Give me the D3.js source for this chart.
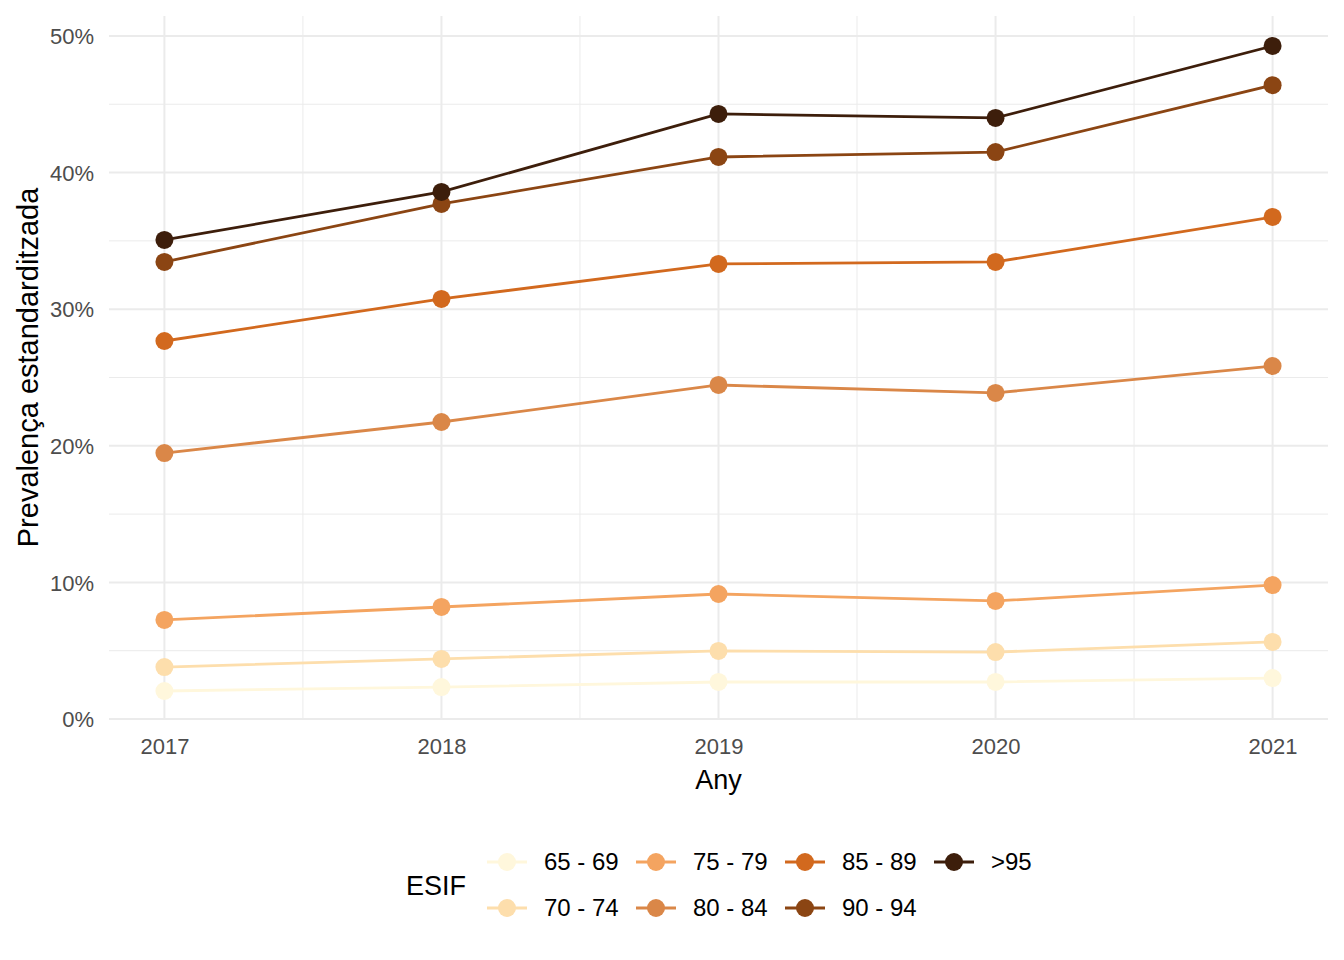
<!DOCTYPE html>
<html>
<head>
<meta charset="utf-8">
<script src="https://cdn.jsdelivr.net/npm/d3@7"></script>
<style>
  body { margin: 0; background: #fff; }
  svg { font-family: "Liberation Sans", Arial, sans-serif; }
</style>
</head>
<body>
<div id="root"></div>
<script>
const years = [2017, 2018, 2019, 2020, 2021];
const groups = ['65 - 69', '70 - 74', '75 - 79', '80 - 84', '85 - 89', '90 - 94', '>95'];
const colors = ['#FFF7DC', '#FDDEAC', '#F4A460', '#DA8748', '#D2691E', '#8B4513', '#3D1E0B'];
const values = {
  '65 - 69': [0.0205, 0.0234, 0.0271, 0.0271, 0.0300],
  '70 - 74': [0.0380, 0.0440, 0.0498, 0.0490, 0.0564],
  '75 - 79': [0.0725, 0.0820, 0.0915, 0.0864, 0.0980],
  '80 - 84': [0.1947, 0.2174, 0.2445, 0.2387, 0.2584],
  '85 - 89': [0.2767, 0.3075, 0.3331, 0.3346, 0.3675],
  '90 - 94': [0.3346, 0.3770, 0.4114, 0.4150, 0.4640],
  '>95':     [0.3507, 0.3858, 0.4429, 0.4400, 0.4927]
};
const yTicks = [0, 0.1, 0.2, 0.3, 0.4, 0.5];

const w = 1344, h = 960;
const panel = { left: 109, right: 1328, top: 16, bottom: 719 };

const svg = d3.select('#root').append('svg')
  .attr('width', w).attr('height', h);

const x = d3.scaleLinear().domain([2016.8, 2021.2]).range([panel.left, panel.right]);
const y = d3.scaleLinear().domain([0, 0.5146]).range([panel.bottom, panel.top]);

// grid
const grid = svg.append('g');
const minorX = years.slice(0, -1).map(d => d + 0.5);
const minorY = yTicks.slice(0, -1).map(d => d + 0.05);
grid.selectAll('.mx').data(minorX).enter().append('line')
  .attr('x1', d => x(d)).attr('x2', d => x(d))
  .attr('y1', panel.top).attr('y2', panel.bottom)
  .attr('stroke', '#EBEBEB').attr('stroke-width', 1);
grid.selectAll('.my').data(minorY).enter().append('line')
  .attr('y1', d => y(d)).attr('y2', d => y(d))
  .attr('x1', panel.left).attr('x2', panel.right)
  .attr('stroke', '#EBEBEB').attr('stroke-width', 1);
grid.selectAll('.gx').data(years).enter().append('line')
  .attr('x1', d => x(d)).attr('x2', d => x(d))
  .attr('y1', panel.top).attr('y2', panel.bottom)
  .attr('stroke', '#EBEBEB').attr('stroke-width', 2);
grid.selectAll('.gy').data(yTicks).enter().append('line')
  .attr('y1', d => y(d)).attr('y2', d => y(d))
  .attr('x1', panel.left).attr('x2', panel.right)
  .attr('stroke', '#EBEBEB').attr('stroke-width', 2);

// axes
const xAxis = svg.append('g')
  .attr('transform', `translate(0,${panel.bottom})`)
  .call(d3.axisBottom(x).tickValues(years).tickFormat(d3.format('d')).tickSize(0).tickPadding(19));
const yAxis = svg.append('g')
  .attr('transform', `translate(${panel.left},0)`)
  .call(d3.axisLeft(y).tickValues(yTicks).tickFormat(d3.format('.0%')).tickSize(0).tickPadding(15));
[xAxis, yAxis].forEach(a => {
  a.select('.domain').remove();
  a.selectAll('text').attr('fill', '#4D4D4D').attr('font-size', '22px')
    .attr('font-family', '"Liberation Sans", Arial, sans-serif');
});
xAxis.selectAll('text').attr('dy', '0.72em');
yAxis.selectAll('text').attr('dy', '0.35em');

svg.append('text')
  .attr('x', (panel.left + panel.right) / 2).attr('y', 789)
  .attr('text-anchor', 'middle').attr('font-size', '27px').attr('fill', '#000')
  .text('Any');
svg.append('text')
  .attr('transform', `translate(38,${(panel.top + panel.bottom) / 2}) rotate(-90)`)
  .attr('text-anchor', 'middle').attr('font-size', '29px').attr('fill', '#000')
  .text('Prevalença estandarditzada');

// lines and points
const line = d3.line().x((d, i) => x(years[i])).y(d => y(d));
groups.forEach((g, gi) => {
  const s = svg.append('g');
  s.append('path').datum(values[g])
    .attr('d', line).attr('fill', 'none')
    .attr('stroke', colors[gi]).attr('stroke-width', 2.8);
  s.selectAll('circle').data(values[g]).enter().append('circle')
    .attr('cx', (d, i) => x(years[i])).attr('cy', d => y(d))
    .attr('r', 9).attr('fill', colors[gi]);
});

// legend
const legend = svg.append('g');
legend.append('text')
  .attr('x', 406).attr('y', 895).attr('font-size', '27px').attr('fill', '#000')
  .text('ESIF');
const colX = [507, 656, 805, 954];
const rowY = [862, 908];
groups.forEach((g, gi) => {
  const cx = colX[Math.floor(gi / 2)];
  const cy = rowY[gi % 2];
  const k = legend.append('g');
  k.append('line')
    .attr('x1', cx - 20).attr('x2', cx + 20).attr('y1', cy).attr('y2', cy)
    .attr('stroke', colors[gi]).attr('stroke-width', 2.8);
  k.append('circle').attr('cx', cx).attr('cy', cy).attr('r', 9).attr('fill', colors[gi]);
  k.append('text')
    .attr('x', cx + 37).attr('y', cy).attr('dy', '0.35em')
    .attr('font-size', '24px').attr('fill', '#000')
    .text(g);
});
</script>
</body>
</html>
